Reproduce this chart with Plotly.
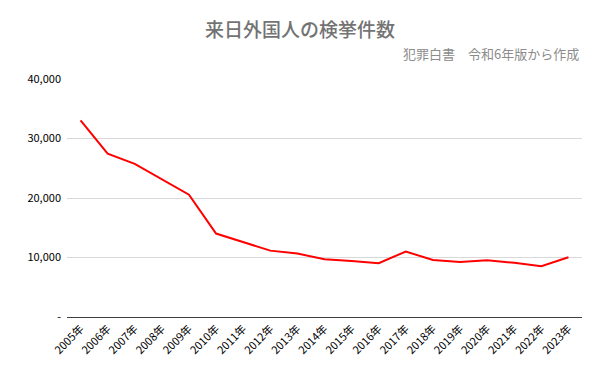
import plotly.graph_objects as go

years = ["2005年", "2006年", "2007年", "2008年", "2009年", "2010年", "2011年", "2012年",
         "2013年", "2014年", "2015年", "2016年", "2017年", "2018年", "2019年", "2020年",
         "2021年", "2022年", "2023年"]
cases = [33037, 27453, 25730, 23202, 20561, 14025, 12582, 11155, 10674, 9689, 9417,
         9043, 11012, 9573, 9248, 9529, 9105, 8548, 10040]

y_tickvals = [0, 10000, 20000, 30000, 40000]
y_ticktext = ["-", "10,000", "20,000", "30,000", "40,000"]

title_text = "来日外国人の検挙件数"
subtitle_text = "犯罪白書　令和6年版から作成"

FONT = "Noto Sans CJK JP, Noto Sans, sans-serif"

L, R, T, B = 67, 18, 79, 54
W, H = 600, 371

fig = go.Figure()
fig.add_trace(go.Scatter(x=years, y=cases, mode="lines",
                         line=dict(color="#ff0000", width=2), showlegend=False,
                         hoverinfo="skip"))

fig.update_layout(
    width=W, height=H,
    margin=dict(l=L, r=R, t=T, b=B),
    paper_bgcolor="white", plot_bgcolor="white",
    font=dict(family=FONT, size=11, color="#000000"),
    xaxis=dict(type="category", range=[-0.5, len(years) - 0.5], tickangle=-45,
               showline=True, linecolor="#404040", linewidth=1.3, showgrid=False,
               ticks="", tickfont=dict(size=11), automargin=False),
    yaxis=dict(range=[0, 40000], tickvals=y_tickvals, ticktext=y_ticktext,
               showgrid=True, gridcolor="#d9d9d9", gridwidth=1, zeroline=False,
               showline=False, ticks="", tickfont=dict(size=11), automargin=False,
               ticklabelstandoff=5),
)

pw = W - L - R
ph = H - T - B


def px2paper(px, py):
    return (px - L) / pw, (H - B - py) / ph


tx, ty = px2paper(300, 28)
sx, sy = px2paper(581, 54)
fig.add_annotation(text=title_text, x=tx, y=ty, xref="paper", yref="paper",
                   xanchor="center", yanchor="middle", showarrow=False,
                   font=dict(size=19, color="#737373", family=FONT, weight=500))
fig.add_annotation(text=subtitle_text, x=sx, y=sy, xref="paper", yref="paper",
                   xanchor="right", yanchor="middle", showarrow=False,
                   font=dict(size=13, color="#8c8c8c", family=FONT))

fig.write_html("out.html", config={"displayModeBar": False},
               post_script="document.body.style.margin='0';")
